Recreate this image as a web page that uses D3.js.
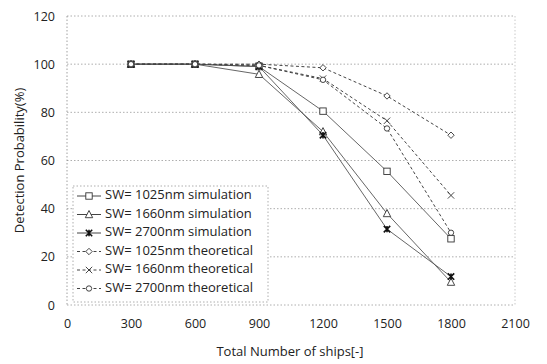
<!DOCTYPE html>
<html><head><meta charset="utf-8">
<script src="https://cdn.jsdelivr.net/npm/d3@7"></script>
<style>body{margin:0;background:#fff}svg{display:block}text{font-family:"Open Sans","Liberation Sans",sans-serif;fill:#222}</style>
</head><body><svg id="c" width="547" height="364"></svg>
<script>
const xValues = [300, 600, 900, 1200, 1500, 1800];
const seriesNames = ["SW= 1025nm simulation","SW= 1660nm simulation","SW= 2700nm simulation","SW= 1025nm theoretical","SW= 1660nm theoretical","SW= 2700nm theoretical"];
const sim1025 = [100, 100, 99, 80.5, 55.5, 27.5];
const sim1660 = [100, 100, 95.8, 72, 38, 9.5];
const sim2700 = [100, 100, 99, 70.5, 31.5, 11.8];
const theo1025 = [100, 100, 100, 98.5, 86.8, 70.5];
const theo1660 = [100, 100, 99.5, 94, 76.5, 45.5];
const theo2700 = [100, 100, 99.5, 93.5, 73.3, 30];
const xTicks = [0, 300, 600, 900, 1200, 1500, 1800, 2100];
const yTicks = [0, 20, 40, 60, 80, 100, 120];
const markers = ["square","triangle","star","diamond","cross","circle"];
const dashed = [false,false,false,true,true,true];
const allSeries = [sim1025, sim1660, sim2700, theo1025, theo1660, theo2700];

const svg = d3.select("#c");
const L = 67, R = 515, T = 16, B = 305;
const x = d3.scaleLinear().domain([0, 2100]).range([L, R]);
const y = d3.scaleLinear().domain([0, 120]).range([B, T]);

// grid
svg.append("g").selectAll("line").data(yTicks).join("line")
  .attr("x1", L).attr("x2", R).attr("y1", d => y(d)).attr("y2", d => y(d))
  .attr("stroke", "#999").attr("stroke-width", 0.8).attr("stroke-dasharray", "1.5,2");
svg.append("line").attr("x1", L).attr("x2", L).attr("y1", T).attr("y2", B)
  .attr("stroke", "#888").attr("stroke-width", 0.8).attr("stroke-dasharray", "1.5,2");
svg.append("line").attr("x1", R).attr("x2", R).attr("y1", T).attr("y2", B)
  .attr("stroke", "#bbb").attr("stroke-width", 0.8).attr("stroke-dasharray", "1.5,2");

// axes
const ya = d3.axisLeft(y).tickValues(yTicks).tickSize(0).tickPadding(12);
const gy = svg.append("g").attr("transform", `translate(${L},0)`).call(ya);
gy.select(".domain").remove();
gy.selectAll("text").style("font-size", "12.5px").attr("fill", "#222");
const xa = d3.axisBottom(x).tickValues(xTicks).tickFormat(d3.format("d")).tickSize(0).tickPadding(14);
const gx = svg.append("g").attr("transform", `translate(0,${B})`).call(xa);
gx.select(".domain").remove();
gx.selectAll("text").style("font-size", "12.5px").attr("fill", "#222");

svg.append("text").attr("transform", `translate(21,${(T+B)/2}) rotate(-90)`)
  .attr("text-anchor", "middle").attr("dominant-baseline", "middle").style("font-size", "13px")
  .text("Detection Probability(%)");
svg.append("text").attr("x", 290).attr("y", 356).attr("text-anchor", "middle").style("font-size", "13px")
  .text("Total Number of ships[-]");

function drawMarker(g, type, cx, cy) {
  const s = 3.2;
  const st = {stroke: "#333", "stroke-width": 0.9, fill: "#fff"};
  let el;
  if (type === "square") el = g.append("rect").attr("x", cx - s).attr("y", cy - s).attr("width", 2*s).attr("height", 2*s);
  else if (type === "triangle") el = g.append("path").attr("d", `M${cx},${cy-s-0.8}L${cx+s+0.5},${cy+s}L${cx-s-0.5},${cy+s}Z`);
  else if (type === "diamond") el = g.append("path").attr("d", `M${cx},${cy-s}L${cx+s},${cy}L${cx},${cy+s}L${cx-s},${cy}Z`);
  else if (type === "circle") el = g.append("circle").attr("cx", cx).attr("cy", cy).attr("r", s - 0.5);
  else if (type === "cross") el = g.append("path").attr("d", `M${cx-s},${cy-s}L${cx+s},${cy+s}M${cx+s},${cy-s}L${cx-s},${cy+s}`).attr("fill", "none");
  else if (type === "star") el = g.append("path").attr("d", `M${cx-s},${cy-s}L${cx+s},${cy+s}M${cx+s},${cy-s}L${cx-s},${cy+s}M${cx},${cy-s}L${cx},${cy+s}`).attr("fill", "none");
  for (const k in st) if (!(k === "fill" && (type === "cross" || type === "star"))) el.attr(k, st[k]);
  if (type === "star") el.attr("stroke-width", 1.6).attr("stroke", "#111");
}

const line = d3.line().x((d, i) => x(xValues[i])).y(d => y(d));
allSeries.forEach((vals, si) => {
  const g = svg.append("g");
  g.append("path").attr("d", line(vals)).attr("fill", "none")
    .attr("stroke", dashed[si] ? "#444" : "#555").attr("stroke-width", dashed[si] ? 1 : 0.9)
    .attr("stroke-dasharray", dashed[si] ? "3,2.5" : null);
  vals.forEach((v, i) => drawMarker(g, markers[si], x(xValues[i]), y(v)));
});

// legend
const lg = svg.append("g");
lg.append("rect").attr("x", 73).attr("y", 186).attr("width", 195).attr("height", 116)
  .attr("fill", "#fff").attr("stroke", "#999").attr("stroke-width", 0.8).attr("stroke-dasharray", "1.5,2");
seriesNames.forEach((name, i) => {
  const ly = 196 + i * 18.5;
  lg.append("line").attr("x1", 77).attr("x2", 101).attr("y1", ly).attr("y2", ly)
    .attr("stroke", "#444").attr("stroke-width", 1).attr("stroke-dasharray", dashed[i] ? "3,2.5" : null);
  drawMarker(lg, markers[i], 89, ly);
  lg.append("text").attr("x", 105).attr("y", ly).attr("dominant-baseline", "middle")
    .style("font-size", "13px").text(name);
});
</script></body></html>
